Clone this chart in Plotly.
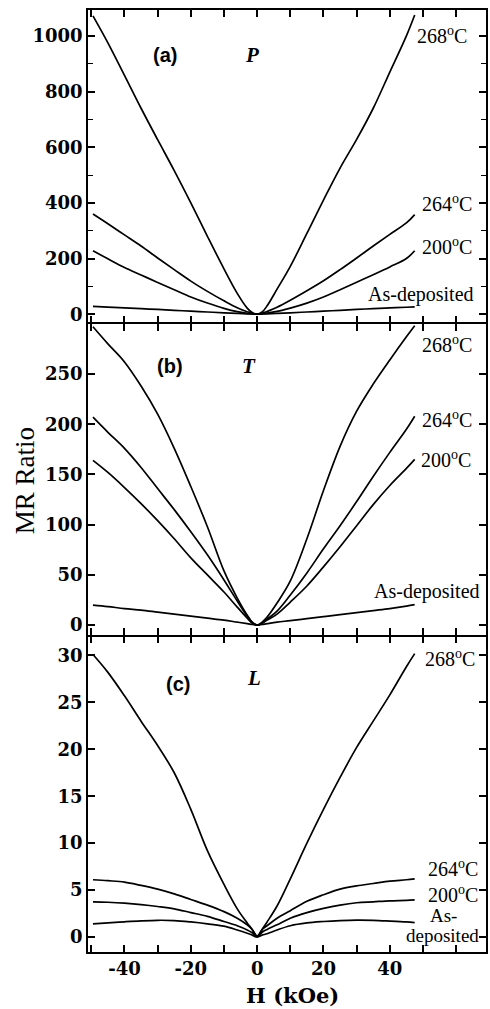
import plotly.graph_objects as go

# Applied field H (kOe)
H = [-49.5, -45, -40, -35, -30, -25, -20, -15, -10, -6, -3, -1.5, 0,
     1.5, 3, 6, 10, 15, 20, 25, 30, 35, 40, 45, 47.5]

series_names = ["268<sup>o</sup>C", "264<sup>o</sup>C", "200<sup>o</sup>C", "As-deposited"]

# (a) P geometry
mr_P_268 = [1072, 975, 858, 740, 627, 516, 400, 280, 163, 75, 22, 6, 0,
            8, 30, 90, 172, 290, 410, 525, 628, 740, 870, 1000, 1075]
mr_P_264 = [360, 325, 285, 245, 202, 160, 119, 82, 48, 23, 9, 3, 0,
            3, 10, 25, 50, 84, 120, 160, 202, 245, 287, 328, 358]
mr_P_200 = [228, 199, 168, 141, 114, 88, 62, 40, 21, 9, 3, 1, 0,
            1, 4, 10, 22, 40, 62, 88, 115, 142, 170, 200, 228]
mr_P_asdep = [28, 25.5, 23, 20, 17, 14, 11, 8, 5, 3, 1.5, 0.7, 0,
              0.7, 1.5, 3, 5, 8, 11, 14, 17, 20, 22.5, 25, 26.5]

# (b) T geometry
mr_T_268 = [297, 280, 262, 238, 210, 176, 138, 98, 54, 27, 10, 3, 0,
            3, 8, 22, 44, 86, 134, 178, 213, 240, 264, 287, 298]
mr_T_264 = [207, 192, 176, 157, 136, 115, 93, 70, 45, 24, 9, 3, 0,
            2, 6, 14, 30, 52, 76, 99, 123, 148, 172, 195, 208]
mr_T_200 = [164, 152, 137, 121, 104, 86, 67, 50, 33, 18, 7, 2, 0,
            2, 5, 11, 23, 39, 58, 78, 99, 120, 139, 156, 165]
mr_T_asdep = [20, 18.5, 16.5, 15, 13, 11, 9, 7, 5, 3, 1.5, 0.7, 0,
              0.7, 1.5, 3, 4.5, 6.5, 8.5, 10.5, 12.5, 14.5, 16.5, 19, 20.5]

# (c) L geometry
mr_L_268 = [30.1, 28.2, 25.7, 23.0, 20.4, 17.5, 13.6, 9.2, 5.6, 3.0, 1.5, 0.8, 0,
            0.8, 1.6, 3.3, 6.2, 10.0, 13.6, 17.0, 20.2, 23.0, 25.8, 28.8, 30.2]
mr_L_264 = [6.1, 6.0, 5.85, 5.5, 5.1, 4.6, 4.0, 3.4, 2.7, 2.0, 1.3, 0.8, 0.1,
            0.8, 1.2, 2.0, 2.8, 3.8, 4.5, 5.1, 5.45, 5.7, 5.95, 6.1, 6.2]
mr_L_200 = [3.75, 3.7, 3.6, 3.45, 3.25, 3.0, 2.6, 2.2, 1.65, 1.2, 0.75, 0.45, 0.05,
            0.5, 0.8, 1.3, 2.0, 2.6, 3.05, 3.4, 3.65, 3.75, 3.85, 3.9, 3.95]
mr_L_asdep = [1.4, 1.5, 1.62, 1.72, 1.78, 1.75, 1.6, 1.4, 1.15, 0.75, 0.4, 0.2, 0.0,
              0.2, 0.35, 0.75, 1.2, 1.5, 1.65, 1.75, 1.8, 1.78, 1.7, 1.6, 1.52]

panels = [
    ("(a)", "P", [mr_P_268, mr_P_264, mr_P_200, mr_P_asdep]),
    ("(b)", "T", [mr_T_268, mr_T_264, mr_T_200, mr_T_asdep]),
    ("(c)", "L", [mr_L_268, mr_L_264, mr_L_200, mr_L_asdep]),
]

# axis setup per panel: y range, y tick values, minor tick step
y_ranges = [[-29, 1093], [-10, 300], [-1.6, 32.0]]
y_ticks = [[0, 200, 400, 600, 800, 1000],
           [0, 50, 100, 150, 200, 250],
           [0, 5, 10, 15, 20, 25, 30]]
y_minor = [100, None, None]
GAP = 1.5 / 942
domains = [[0.6677 + GAP / 2, 1.0], [0.3355 + GAP / 2, 0.6677 - GAP / 2], [0.0, 0.3355 - GAP / 2]]

x_tickvals = [-50, -40, -30, -20, -10, 0, 10, 20, 30, 40, 50, 60]
x_ticktext = ["", "-40", "", "-20", "", "0", "", "20", "", "40", "", ""]

# label anchor positions (H, MR) for the curve labels in each panel
label_pos = [
    [(47.7, 1004), (49.2, 401), (49.2, 244), (32.7, 72)],
    [(49.2, 280), (49.2, 205), (48.9, 165), (34.5, 34)],
    [(50.1, 29.7), (51.0, 7.4), (51.0, 4.6), None],
]
tag_pos = [(-27.9, 932, -1.5, 932), (-26.4, 258, -2.4, 258), (-24.0, 27.0, -0.9, 27.6)]

SERIF = "Liberation Serif"
BOLD_SERIF = "DejaVu Serif"


def bold(s):
    return "<b>" + s + "</b>" if s else s


fig = go.Figure()
annotations = []

for i, (tag, geom, curves) in enumerate(panels):
    n = "" if i == 0 else str(i + 1)
    xa, ya = "x" + n, "y" + n
    for name, vals in zip(series_names, curves):
        fig.add_trace(go.Scatter(
            x=H, y=vals, mode="lines", name=name, showlegend=False,
            line=dict(color="black", width=1.7, shape="spline", smoothing=1.0),
            xaxis=xa, yaxis=ya, hoverinfo="skip"))

    xaxis = dict(
        domain=[0, 1], range=[-51, 69], anchor=ya,
        tickmode="array", tickvals=x_tickvals,
        ticktext=[bold(t) for t in x_ticktext],
        ticks="inside", ticklen=7, tickwidth=1.5, tickcolor="black",
        showline=True, linecolor="black", linewidth=1.5, mirror="allticks",
        showgrid=False, zeroline=False, showticklabels=(i == 2),
        tickfont=dict(family=BOLD_SERIF, size=18, color="black"),
    )
    yaxis = dict(
        domain=domains[i], range=y_ranges[i], anchor=xa,
        tickmode="array", tickvals=y_ticks[i],
        ticktext=[bold(str(v)) for v in y_ticks[i]],
        ticks="inside", ticklen=7, tickwidth=1.5, tickcolor="black",
        showline=True, linecolor="black", linewidth=1.5, mirror="allticks",
        showgrid=False, zeroline=False,
        tickfont=dict(family=BOLD_SERIF, size=18, color="black"),
    )
    if y_minor[i]:
        yaxis["minor"] = dict(ticks="inside", ticklen=5, tickwidth=1.2,
                              tickcolor="black", dtick=y_minor[i], tick0=0)
    fig.update_layout({"xaxis" + n: xaxis, "yaxis" + n: yaxis})

    # curve labels
    for j, pos in enumerate(label_pos[i]):
        if pos is None:
            continue
        annotations.append(dict(
            x=pos[0], y=pos[1], xref=xa, yref=ya, text=series_names[j],
            showarrow=False, xanchor="left", yanchor="middle",
            font=dict(family=SERIF, size=20, color="black")))

    ta = tag_pos[i]
    annotations.append(dict(
        x=ta[0], y=ta[1], xref=xa, yref=ya, text="<b>" + tag + "</b>", showarrow=False,
        font=dict(family="Liberation Sans", size=20, color="black")))
    annotations.append(dict(
        x=ta[2], y=ta[3], xref=xa, yref=ya, text="<b><i>" + geom + "</i></b>",
        showarrow=False, font=dict(family=SERIF, size=21, color="black")))

# two-line label for the as-deposited curve in (c)
annotations.append(dict(
    x=56.3, y=2.25, xref="x3", yref="y3", text="As-",
    showarrow=False, xanchor="center", yanchor="middle",
    font=dict(family=SERIF, size=19, color="black")))
annotations.append(dict(
    x=56.0, y=0.15, xref="x3", yref="y3", text="deposited",
    showarrow=False, xanchor="center", yanchor="middle",
    font=dict(family=SERIF, size=19, color="black")))

# axis titles
annotations.append(dict(
    x=-0.1575, y=0.5, xref="paper", yref="paper", text="MR Ratio",
    textangle=-90, showarrow=False, xanchor="center", yanchor="middle",
    font=dict(family=SERIF, size=27, color="black")))
annotations.append(dict(
    x=0.515, y=-0.046, xref="paper", yref="paper", text="<b>H (kOe)</b>",
    showarrow=False, xanchor="center", yanchor="middle",
    font=dict(family=BOLD_SERIF, size=21, color="black")))

fig.update_layout(
    width=490, height=1009,
    margin=dict(l=88, r=2, t=10, b=57),
    paper_bgcolor="white", plot_bgcolor="white",
    annotations=annotations, showlegend=False,
)

fig.write_html("out.html")
